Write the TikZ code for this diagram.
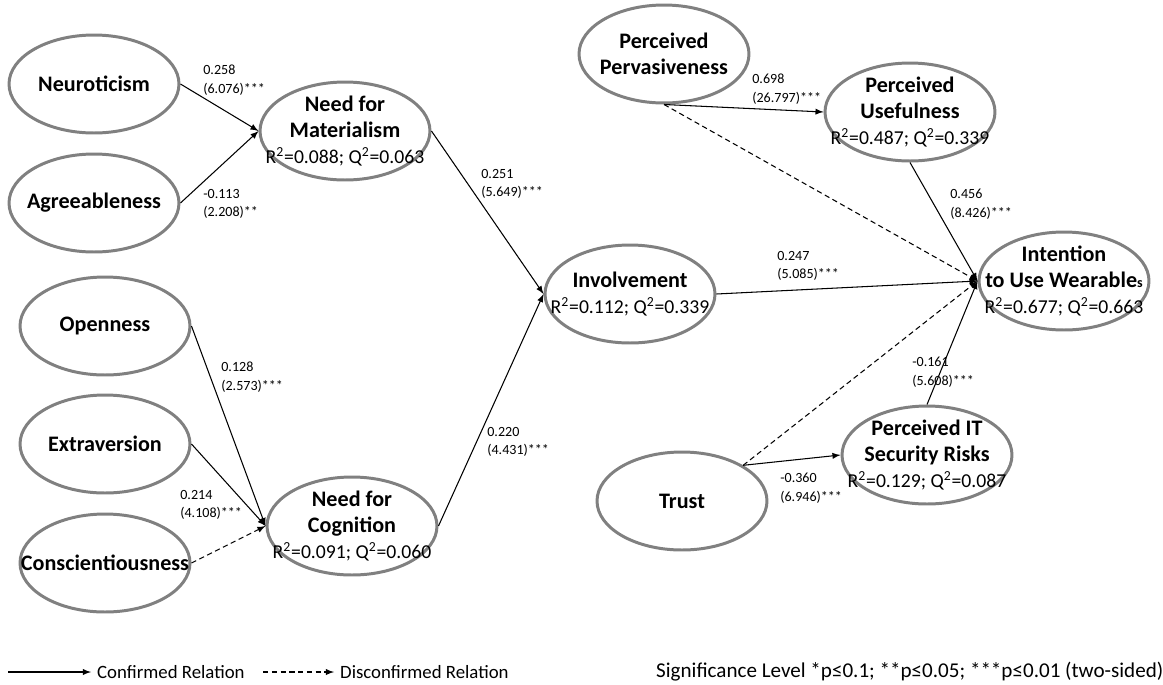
\documentclass[tikz,border=0pt]{standalone}
\usepackage{fontspec}
\setmainfont{Carlito}
\usepackage{tikz}
\usetikzlibrary{shapes.geometric}
\definecolor{rim}{RGB}{128,128,128}
\newcommand{\rsq}[2]{{\mdseries\fontsize{11.2}{13}\selectfont R\textsuperscript{2}=#1; Q\textsuperscript{2}=#2}}

\begin{document}
\begin{tikzpicture}[x=0.02cm, y=-0.02cm,
    latent/.style={ellipse, draw=rim, line width=1.7pt, minimum width=3.4cm, minimum height=1.96cm, inner sep=-20pt, align=center, font=\bfseries\fontsize{12.6}{14.7}\selectfont},
    conf/.style={->, >=latex, line width=0.6pt},
    disc/.style={conf, dash pattern=on 3pt off 2pt},
    coef/.style={anchor=west, inner sep=0pt, align=left, font=\fontsize{8}{10.5}\selectfont},
    legtxt/.style={anchor=west, font=\fontsize{10.7}{12}\selectfont}]
\useasboundingbox (0,0) rectangle (1163,684);

% personality traits
\node[latent] (neu) at (94,84) {Neuroticism};
\node[latent] (agr) at (94,203) {Agreeableness};
\node[latent] (ope) at (105,326) {Openness};
\node[latent] (ext) at (105,444) {Extraversion};
\node[latent] (con) at (105,563) {Conscientiousness};

% needs and involvement
\node[latent] (nfm) at (345,131) {Need for\\Materialism\\\rsq{0.088}{0.063}};
\node[latent] (nfc) at (352,526) {Need for\\Cognition\\\rsq{0.091}{0.060}};
\node[latent] (inv) at (630,294) {Involvement\\\rsq{0.112}{0.339}};

% technology side
\node[latent] (pp) at (664,54) {Perceived\\Pervasiveness};
\node[latent] (pu) at (910,112) {Perceived\\Usefulness\\\rsq{0.487}{0.339}};
\node[latent] (itu) at (1064,281) {Intention\\to Use Wearable{\fontsize{8}{8}\selectfont s}\\\rsq{0.677}{0.663}};
\node[latent] (risk) at (927,455) {Perceived IT\\Security Risks\\\rsq{0.129}{0.087}};
\node[latent] (tru) at (682,501) {Trust};

% paths
\draw[conf] (neu.east) -- (nfm.west);
\draw[conf] (agr.east) -- (nfm.west);
\draw[conf] (ope.east) -- (nfc.west);
\draw[conf] (ext.east) -- (nfc.west);
\draw[disc] (con.east) -- (nfc.west);
\draw[conf] (nfm.east) -- (inv.west);
\draw[conf] (nfc.east) -- (inv.west);
\draw[conf] (inv.east) -- (itu.west);
\draw[conf] (pp.south) -- (pu.west);
\draw[disc] (pp.south) -- (itu.west);
\draw[conf] (pu.south) -- (itu.west);
\draw[conf] (tru.north east) -- (risk.west);
\draw[disc] (tru.north east) -- (itu.west);
\draw[conf] (risk.north) -- (itu.west);

% path coefficients
\node[coef] (c-neu) at (203,80) {0.258\\(6.076)***};
\node[coef] (c-agr) at (203,204) {-0.113\\(2.208)**};
\node[coef] (c-ope) at (221,377) {0.128\\(2.573)***};
\node[coef] (c-ext) at (180,505) {0.214\\(4.108)***};
\node[coef] (c-nfm) at (481,184) {0.251\\(5.649)***};
\node[coef] (c-nfc) at (487,442) {0.220\\(4.431)***};
\node[coef] (c-pp) at (752,89) {0.698\\(26.797)***};
\node[coef] (c-pu) at (950,204) {0.456\\(8.426)***};
\node[coef] (c-inv) at (777,266) {0.247\\(5.085)***};
\node[coef] (c-risk) at (912,372) {-0.161\\(5.608)***};
\node[coef] (c-tru) at (780,488) {-0.360\\(6.946)***};

% legend
\coordinate (lg-a) at (8,672);
\node[legtxt] (lg-conf) at (91,672) {Confirmed Relation};
\draw[conf] (lg-a) -- (lg-conf.west);
\coordinate (lg-b) at (263,672);
\node[legtxt] (lg-disc) at (334,672) {Disconfirmed Relation};
\draw[disc] (lg-b) -- (lg-disc.west);
\node[legtxt, font=\fontsize{12}{13}\selectfont] (lg-sig) at (650,672) {Significance Level *p≤0.1; **p≤0.05; ***p≤0.01 (two-sided)};
\end{tikzpicture}
\end{document}
